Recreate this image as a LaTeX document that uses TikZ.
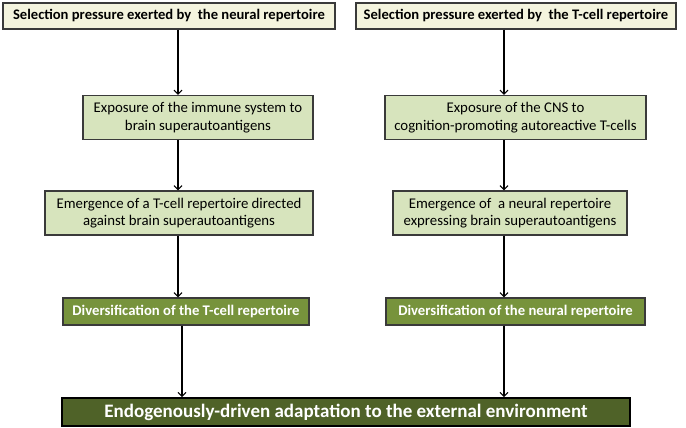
\documentclass[tikz,border=0pt]{standalone}
\usepackage{fontspec}
\setmainfont{Carlito}
\usetikzlibrary{positioning,arrows.meta}

\definecolor{creamfill}{HTML}{F4F4DE}
\definecolor{lightolive}{HTML}{D7E4BD}
\definecolor{midolive}{HTML}{77933C}
\definecolor{darkolive}{HTML}{4F6228}
\definecolor{edgegray}{HTML}{3A3A3A}

\begin{document}
\begin{tikzpicture}[
        x=1pt, y=-1pt,
        pressure/.style={
                rectangle,
                draw=edgegray,
                fill=creamfill,
                line width=1.2pt,
                minimum height=26pt,
                inner sep=0pt,
                font=\fontsize{14.6}{17}\selectfont\bfseries
            },
        stage/.style={
                rectangle,
                draw=edgegray,
                fill=lightolive,
                line width=1.2pt,
                minimum height=44pt,
                inner sep=0pt,
                align=center,
                font=\fontsize{14.8}{17.5}\selectfont
            },
        diverse/.style={
                rectangle,
                draw=edgegray,
                fill=midolive,
                text=white,
                line width=1.2pt,
                minimum height=27pt,
                inner sep=0pt,
                font=\fontsize{14.7}{17}\selectfont\bfseries
            },
        outcome/.style={
                rectangle,
                draw=black,
                fill=darkolive,
                text=white,
                line width=1.6pt,
                minimum height=28pt,
                inner sep=0pt,
                font=\fontsize{19}{22}\selectfont\bfseries
            },
        flow/.style={
                line width=1.1pt,
                -{Straight Barb[length=4pt,width=8pt,line width=1.1pt]}
            }
    ]
    \useasboundingbox (0,0) rectangle (686,428);

    % left column
    \node[pressure, minimum width=332pt] (presN)   at (169,16)     {Selection pressure exerted by \ the neural repertoire};
    \node[stage, minimum width=230pt]    (expImm)  at (198,117.5)  {Exposure of the immune system to\\brain superautoantigens};
    \node[stage, minimum width=268pt]    (emTcell) at (179,213)    {Emergence of a T-cell repertoire directed\\against brain superautoantigens};
    \node[diverse, minimum width=246pt]  (divT)    at (186,311.5)  {Diversification of the T-cell repertoire};

    % right column
    \node[pressure, minimum width=320pt] (presT)   at (516,16)     {Selection pressure exerted by \ the T-cell repertoire};
    \node[stage, minimum width=261pt]    (expCNS)  at (515.5,117.5) {Exposure of the CNS to\\cognition-promoting autoreactive T-cells};
    \node[stage, minimum width=234pt]    (emNeur)  at (510,213)    {Emergence of \ a neural repertoire\\expressing brain superautoantigens};
    \node[diverse, minimum width=259pt]  (divN)    at (515.5,311.5) {Diversification of the neural repertoire};

    \node[outcome, minimum width=568pt]  (adapt)   at (346,412)    {Endogenously-driven adaptation to the external environment};

    \coordinate (lcol) at (178,0);
    \coordinate (lout) at (182,0);
    \coordinate (rcol) at (504,0);

    \draw[flow] (presN.south -| lcol) -- (expImm.north -| lcol);
    \draw[flow] (expImm.south -| lcol) -- (emTcell.north -| lcol);
    \draw[flow] (emTcell.south -| lcol) -- (divT.north -| lcol);
    \draw[flow] (divT.south -| lout) -- (adapt.north -| lout);

    \draw[flow] (presT.south -| rcol) -- (expCNS.north -| rcol);
    \draw[flow] (expCNS.south -| rcol) -- (emNeur.north -| rcol);
    \draw[flow] (emNeur.south -| rcol) -- (divN.north -| rcol);
    \draw[flow] (divN.south -| rcol) -- (adapt.north -| rcol);
\end{tikzpicture}
\end{document}
